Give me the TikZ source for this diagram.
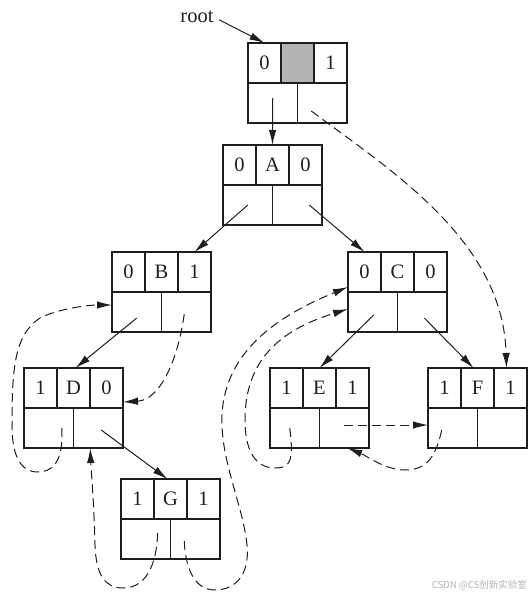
\documentclass[tikz,border=0pt]{standalone}
\usepackage{fontspec}
\setmainfont{Liberation Serif}
\newfontfamily\cjkwm{Noto Sans CJK SC}
\usetikzlibrary{arrows.meta}
\definecolor{ink}{HTML}{1E1E1E}
\definecolor{shade}{HTML}{B4B4B4}
\tikzset{
  topcell/.style={draw=ink, line width=1.2pt, minimum width=33pt, minimum height=40pt,
    inner sep=0pt, outer sep=0pt, font=\fontsize{20.5}{22}\selectfont, text=ink},
  botcell/.style={draw=ink, line width=1.2pt, minimum width=49.5pt, minimum height=40pt,
    inner sep=0pt, outer sep=0pt},
  child/.style={draw=ink, line width=1pt, -{Latex[length=15pt,width=7.5pt]}},
  thread/.style={draw=ink, line width=1pt, dash pattern=on 9pt off 5pt, -{Latex[length=15pt,width=7.5pt]}},
}
\newcommand\tbtree[7]{%
  \node[topcell,anchor=north west] (#1-l) at (#2,#3) {#4};
  \node[topcell,anchor=north west,#7] (#1-m) at ({#2+33},#3) {#5};
  \node[topcell,anchor=north west] (#1-r) at ({#2+66},#3) {#6};
  \node[botcell,anchor=north west] (#1-bl) at (#2,{#3+40}) {};
  \node[botcell,anchor=north west] (#1-br) at ({#2+49.5},{#3+40}) {};
}
\begin{document}
\begin{tikzpicture}[x=1pt,y=-1pt]
\useasboundingbox (0,0) rectangle (532,597);
\tbtree{root}{248}{43}{0}{}{1}{fill=shade}
\tbtree{A}{223}{145}{0}{A}{0}{}
\tbtree{B}{112}{252}{0}{B}{1}{}
\tbtree{C}{348}{252}{0}{C}{0}{}
\tbtree{D}{24}{368}{1}{D}{0}{}
\tbtree{E}{270}{368}{1}{E}{1}{}
\tbtree{F}{428}{368}{1}{F}{1}{}
\tbtree{G}{121}{479}{1}{G}{1}{}
\node[inner sep=0pt, font=\fontsize{20.5}{22}\selectfont, text=ink] (rootlbl) at (197,17) {root};
% solid child links
\draw[child, shorten <=6pt] (rootlbl.east) -- (root-l.north);
\draw[child] ([yshift=5pt]root-bl.center) -- (A-m.north);
\draw[child] (A-bl.center) -- (B-r.north);
\draw[child] ([xshift=12pt]A-br.center) -- (C-l.north);
\draw[child] ([yshift=-6pt]B-bl.center) -- ([xshift=2pt]D-m.north);
\draw[child] ([xshift=3pt,yshift=-2pt]D-br.center) -- ([xshift=-3pt]G-m.north);
\draw[child] ([xshift=1pt,yshift=-3pt]C-bl.center) -- (E-m.north);
\draw[child] ([xshift=2pt,yshift=-6pt]C-br.center) -- ([xshift=-4pt]F-m.north);
% dashed thread links
\draw[thread] ([xshift=-11pt,yshift=-8pt]root-br.center)
  .. controls (390,170) and (503,240) .. ([xshift=-4pt]F-r.north);
\draw[thread] ([xshift=-2pt,yshift=-2pt]B-br.center)
  .. controls (178,360) and (160,400) .. ([yshift=-14pt]D-r.east);
\draw[thread] ([xshift=13pt]D-bl.center)
  .. controls (64,465) and (50,472) .. (38,472)
  .. controls (20,472) and (12,455) .. (12,425)
  .. controls (12,370) and (14,335) .. (40,318)
  .. controls (60,308) and (90,305) .. ([yshift=7pt]B-bl.west);
\draw[thread] ([xshift=12pt,yshift=6pt]G-bl.center)
  .. controls (156,575) and (140,588) .. (123,588)
  .. controls (105,588) and (96,575) .. (95,545)
  .. controls (94,500) and (91,470) .. ([xshift=-8pt]D-br.south);
\draw[thread] ([xshift=-11pt,yshift=-2pt]G-br.center)
  .. controls (186,575) and (198,590) .. (215,590)
  .. controls (235,590) and (250,575) .. (247,545)
  .. controls (243,505) and (220,460) .. (222,415)
  .. controls (225,350) and (280,315) .. ([yshift=-15pt]C-l.west);
\draw[thread] ([xshift=-5pt]E-bl.center)
  .. controls (294,462) and (290,468) .. (275,468)
  .. controls (255,468) and (245,450) .. (245,420)
  .. controls (245,360) and (280,330) .. ([yshift=3pt]C-bl.west);
\draw[thread] ([yshift=3pt]E-br.center) -- ([yshift=3pt]F-bl.west);
\draw[thread] ([xshift=-11pt,yshift=-2pt]F-bl.center)
  .. controls (436,455) and (428,470) .. (405,470)
  .. controls (385,470) and (365,455) .. ([xshift=3pt]E-br.south);
% watermark
\node[inner sep=0pt, anchor=east, text=black!30, font=\cjkwm\fontsize{9.5}{10}\selectfont] (wm) at (527,585) {CSDN @CS创新实验室};
\end{tikzpicture}
\end{document}
